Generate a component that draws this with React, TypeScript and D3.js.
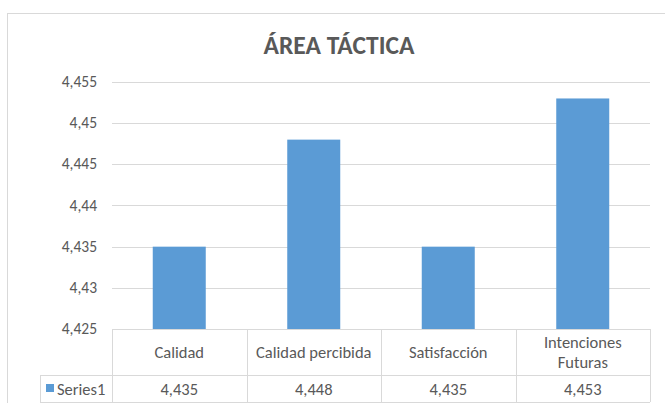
import React from "react";
import * as d3 from "d3";

const title = "ÁREA TÁCTICA";
const categories = ["Calidad", "Calidad percibida", "Satisfacción", "Intenciones Futuras"];
const categoryLines = [["Calidad"], ["Calidad percibida"], ["Satisfacción"], ["Intenciones", "Futuras"]];
const values = [4.435, 4.448, 4.435, 4.453];
const valueLabels = ["4,435", "4,448", "4,435", "4,453"];
const seriesName = "Series1";
const yTicks = [4.425, 4.43, 4.435, 4.44, 4.445, 4.45, 4.455];

const W = 665;
const H = 403;
const FONT = "Carlito, Lato, 'Open Sans', sans-serif";
const TEXT = "#595959";
const GRID = "#D9D9D9";
const BAR = "#5B9BD5";

export default function App() {
  const left = 112, right = 650, top = 82, bottom = 329;
  const headerBottom = 375, tableBottom = 402, legendLeft = 40;
  const x = d3.scaleBand().domain(categories).range([left, right]).paddingInner(0).paddingOuter(0);
  const y = d3.scaleLinear().domain([4.425, 4.455]).range([bottom, top]);
  const barW = 53;
  const fmt = (v: number) => d3.format(".3~f")(v).replace(".", ",");
  const bounds = [left, ...categories.map((c) => (x(c) as number) + x.bandwidth())];

  return (
    <svg width={W} height={H} style={{ position: "absolute", left: 0, top: 0, fontFamily: FONT }}>
      <rect x={0} y={0} width={W} height={H} fill="#fff" />
      <rect x={7.5} y={13.5} width={W + 10} height={H + 10} fill="#fff" stroke={GRID} strokeWidth={1} />
      <text x={339} y={54} textAnchor="middle" fontSize={25.5} fontWeight="bold" fill={TEXT}>{title}</text>
      {yTicks.map((t) => (
        <g key={t}>
          <line x1={left} x2={right} y1={Math.round(y(t)) + 0.5} y2={Math.round(y(t)) + 0.5} stroke={GRID} />
          <text x={97} y={y(t) + 5} textAnchor="end" fontSize={15.5} fill={TEXT}>{fmt(t)}</text>
        </g>
      ))}
      {categories.map((c, i) => {
        const cx = (x(c) as number) + x.bandwidth() / 2;
        return (
          <rect key={c} x={cx - barW / 2} y={y(values[i])} width={barW} height={bottom - y(values[i])} fill={BAR} />
        );
      })}
      {/* data table */}
      <line x1={left} x2={right} y1={bottom + 0.5} y2={bottom + 0.5} stroke={GRID} />
      <line x1={legendLeft} x2={right} y1={headerBottom + 0.5} y2={headerBottom + 0.5} stroke={GRID} />
      <line x1={legendLeft} x2={right} y1={tableBottom + 0.5} y2={tableBottom + 0.5} stroke={GRID} />
      <line x1={legendLeft + 0.5} x2={legendLeft + 0.5} y1={headerBottom} y2={tableBottom} stroke={GRID} />
      {bounds.map((b, i) => (
        <line key={i} x1={Math.round(b) + 0.5} x2={Math.round(b) + 0.5} y1={bottom} y2={tableBottom} stroke={GRID} />
      ))}
      {categories.map((c, i) => {
        const cx = (x(c) as number) + x.bandwidth() / 2;
        const lines = categoryLines[i];
        const mid = (bottom + headerBottom) / 2;
        return (
          <g key={c}>
            {lines.map((l, j) => (
              <text key={j} x={cx} y={mid + 5.5 + (j - (lines.length - 1) / 2) * 20} textAnchor="middle" fontSize={16.5} fill={TEXT}>{l}</text>
            ))}
            <text x={cx} y={(headerBottom + tableBottom) / 2 + 6} textAnchor="middle" fontSize={16.5} fill={TEXT}>{valueLabels[i]}</text>
          </g>
        );
      })}
      <rect x={46} y={384} width={8} height={8} fill={BAR} />
      <text x={57} y={(headerBottom + tableBottom) / 2 + 6} fontSize={16.5} fill={TEXT}>{seriesName}</text>
    </svg>
  );
}
